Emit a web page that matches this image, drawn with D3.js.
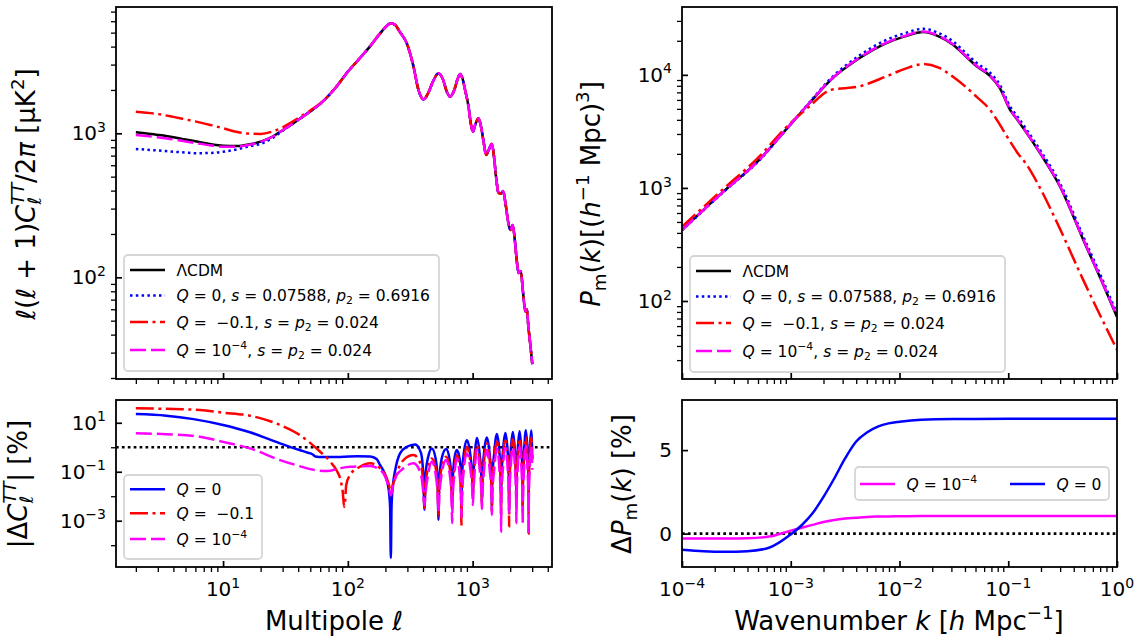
<!DOCTYPE html>
<html>
<head>
<meta charset="utf-8">
<script src="https://cdn.jsdelivr.net/npm/d3@7"></script>
<style>
  body { margin: 0; background: #fff; }
  svg { font-family: "DejaVu Sans", sans-serif; }
  text { white-space: pre; }
</style>
</head>
<body>
<svg id="fig" width="1142" height="642"></svg>
<script>
// ---- CMB TT spectrum, l(l+1)C_l/2pi in muK^2 ----
const ell = [2,3,4,5,6,8,10,13,16,20,25,30,40,50,60,80,100,120,150,180,200,221,240,260,297,336,368,404,440,480,532,580,620,661,710,760,795,830,870,927,970,1005,1050,1114,1170,1230,1283,1340,1425,1480,1540,1610,1680,1754,1830,1930,2012,2096,2180,2270,2337,2434,2530,2645,2718,2800,2900,3006];
const dlLCDM = [1016,975,940,905,880,840,820,815,835,875,950,1050,1240,1420,1600,2080,2680,3200,4000,4900,5450,5800,5650,5080,4200,2900,2000,1720,1900,2280,2610,2350,1950,1796,1980,2400,2580,2400,2000,1530,1150,1026,1150,1270,1100,850,707,760,843,700,500,387,380,398,330,240,213,231,180,125,107,110,80,58,60,45,34,25];
// low-l part where the models depart from LCDM (first entries of ell), the rest follows LCDM
const dlQ0Low = [778,760,745,735,728,730,745,775,810,845,930,1040];
const dlQm01Low = [1412,1360,1300,1250,1210,1140,1085,1020,995,990,1030,1100,1275,1440,1610];
const dlQ1e4Low = [973,938,908,878,857,824,808,808,830,872];

// ---- |Delta C_l^TT| in % ----
const diffQ0 = [[2,22.6],[3.5,19.5],[5.8,14.1],[10,8.1],[16.4,4.1],[28.6,1.44],[41,0.77],[48,0.6],[52,0.52],[55,0.42],[62,0.4],[87,0.4],[120,0.43],[151,0.42],[170,0.33],[181,0.19],[200,0.07],[212,0.02],[218,0.004],[221,0.00003],[224,0.004],[230,0.03],[240,0.12],[262,0.56],[297,1.05],[346,1.31],[385,0.6],[402,0.08],[411,0.0028],[420,0.08],[440,0.4],[471,0.9],[505,0.35],[525,0.04],[532,0.0011],[540,0.04],[565,0.35],[613,0.85],[655,0.3],[678,0.04],[685,0.003],[692,0.04],[715,0.35],[747,0.77],[790,0.3],[808,0.03],[813,0.004],[820,0.04],[845,0.45],[899,1.95],[960,0.45],[995,0.04],[1004,0.01],[1015,0.06],[1040,0.5],[1081,2.4],[1140,0.5],[1178,0.05],[1186,0.006],[1196,0.05],[1235,0.6],[1300,2.5],[1370,0.5],[1418,0.04],[1426,0.0025],[1436,0.04],[1490,0.6],[1564,3.5],[1640,0.6],[1683,0.04],[1690,0.005],[1698,0.04],[1750,0.7],[1830,3.8],[1910,0.6],[1953,0.04],[1960,0.003],[1968,0.04],[2020,0.7],[2100,4.2],[2185,0.6],[2233,0.05],[2240,0.008],[2248,0.05],[2300,0.8],[2380,4.5],[2460,0.7],[2513,0.05],[2520,0.004],[2528,0.05],[2590,0.8],[2670,5.0],[2750,0.8],[2803,0.06],[2810,0.01],[2818,0.06],[2870,0.8],[2950,4.8],[3006,0.35]];
const diffQm01 = [[2,39],[3.5,37],[6.5,33],[10,26],[16.4,19.5],[28.6,8.1],[41,3.2],[56,0.9],[72,0.26],[81.5,0.11],[88,0.04],[91,0.015],[93.4,0.0037],[95,0.006],[97,0.028],[104,0.074],[125,0.16],[151,0.22],[181,0.14],[205,0.054],[215,0.025],[221,0.011],[228,0.025],[240,0.06],[279,0.3],[336,0.48],[385,0.2],[402,0.03],[411,0.0033],[420,0.03],[440,0.15],[471,0.35],[505,0.15],[525,0.02],[532,0.0015],[540,0.02],[565,0.15],[613,0.41],[655,0.15],[678,0.02],[685,0.0045],[692,0.02],[715,0.15],[747,0.48],[790,0.1],[808,0.006],[813,0.0006],[820,0.006],[845,0.15],[899,1.05],[960,0.25],[995,0.04],[1004,0.011],[1015,0.04],[1040,0.3],[1081,1.23],[1140,0.25],[1178,0.03],[1186,0.0044],[1196,0.03],[1235,0.3],[1300,1.45],[1370,0.3],[1418,0.02],[1426,0.0023],[1436,0.02],[1490,0.35],[1564,1.7],[1640,0.3],[1683,0.02],[1690,0.0015],[1698,0.02],[1750,0.4],[1830,1.9],[1910,0.35],[1953,0.02],[1960,0.0006],[1968,0.02],[2020,0.4],[2100,2.1],[2185,0.35],[2233,0.03],[2240,0.003],[2248,0.03],[2300,0.45],[2380,2.3],[2460,0.4],[2513,0.03],[2520,0.002],[2528,0.03],[2590,0.45],[2670,2.6],[2750,0.45],[2803,0.03],[2810,0.0003],[2818,0.03],[2870,0.5],[2950,2.5],[3006,0.3]];
const diffQ1e4 = [[2,3.7],[3.5,3.4],[6.5,2.7],[10,1.66],[16.4,0.9],[28.6,0.3],[41,0.17],[53,0.12],[68,0.107],[87,0.14],[104,0.16],[151,0.17],[181,0.12],[200,0.06],[212,0.025],[221,0.011],[230,0.025],[245,0.07],[270,0.12],[336,0.22],[385,0.08],[402,0.015],[411,0.0044],[420,0.015],[440,0.08],[471,0.26],[505,0.08],[525,0.01],[532,0.0023],[540,0.01],[565,0.08],[613,0.3],[655,0.08],[678,0.008],[685,0.0008],[692,0.008],[715,0.08],[747,0.35],[790,0.06],[808,0.006],[813,0.0013],[820,0.006],[845,0.1],[899,0.56],[960,0.12],[995,0.015],[1004,0.0044],[1015,0.015],[1040,0.12],[1081,0.77],[1140,0.12],[1178,0.01],[1186,0.003],[1196,0.01],[1235,0.12],[1300,0.77],[1370,0.12],[1418,0.01],[1426,0.0017],[1436,0.01],[1490,0.13],[1564,0.9],[1640,0.12],[1683,0.006],[1690,0.00035],[1698,0.006],[1750,0.15],[1830,0.95],[1910,0.13],[1953,0.008],[1960,0.002],[1968,0.008],[2020,0.15],[2100,1.0],[2185,0.13],[2233,0.006],[2240,0.0008],[2248,0.006],[2300,0.15],[2380,1.05],[2460,0.14],[2513,0.006],[2520,0.0007],[2528,0.006],[2590,0.15],[2670,1.1],[2750,0.14],[2803,0.006],[2810,0.0003],[2818,0.006],[2870,0.15],[2950,1.1],[3006,0.12]];

// ---- matter power spectrum P_m(k) ----
const kPk = [1e-4,2.4e-4,5.13e-4,8.71e-4,1.48e-3,2.34e-3,4.27e-3,7.59e-3,1.12e-2,1.66e-2,2.29e-2,3.13e-2,4.07e-2,5.13e-2,6.79e-2,8.39e-2,0.104,0.120,0.148,0.196,0.299,0.490,0.708,1.0];
const pkLCDM = [425,927,1770,3150,5610,9030,14000,19100,21900,23900,21900,18400,14600,11900,9800,7600,4900,4060,3050,2030,1030,347,157,72];
const pkQ0 = [421,917,1752,3134,5677,9310,14800,20360,23380,25540,23400,19660,15600,12720,10470,8120,5240,4340,3260,2170,1100,371,168,77];
const pkQm01 = [455,980,1890,3300,5250,7360,7900,9700,11300,12450,11600,9560,7820,6380,4910,3610,2570,2080,1600,1000,434,153,73,37];
const pkQ1e4 = [424,924,1766,3148,5640,9100,14140,19300,22130,24150,22130,18590,14750,12020,9900,7680,4950,4100,3080,2050,1040,351,159,73];

// ---- Delta P_m(k) in % ----
const kDelta = [1e-4,1.58e-4,2.51e-4,3.98e-4,6.31e-4,1e-3,1.26e-3,1.58e-3,2e-3,2.51e-3,3.16e-3,3.98e-3,5.01e-3,6.31e-3,7.94e-3,1e-2,1.58e-2,3.16e-2,0.1,0.316,1];
const dPQ0 = [-0.96,-1.05,-1.08,-1.05,-0.85,-0.05,0.5,1.2,2.2,3.3,4.5,5.5,6.05,6.4,6.6,6.7,6.82,6.86,6.87,6.87,6.87];
const dPQ1e4 = [-0.3,-0.3,-0.3,-0.28,-0.18,0.18,0.35,0.52,0.7,0.82,0.9,0.95,1.0,1.02,1.03,1.04,1.05,1.06,1.06,1.06,1.06];

// ---- ticks ----
const ellTicks = [10,100,1000];
const ttTicks = [100,1000];
const diffTicks = [10,0.1,0.001];
const diffMinor = [1,0.01,0.0001];
const kTicks = [1e-4,1e-3,1e-2,1e-1,1];
const pkTicks = [100,1000,10000];
const dpTicks = [0,5];

const svg = d3.select("#fig");

const xEll = d3.scaleLog().domain([10 ** 0.142, 10 ** 3.636]).range([116, 552]);
const yTT = d3.scaleLog().domain([10 ** 1.294, 10 ** 3.877]).range([379, 7]);
const yDiff = d3.scaleLog().domain([10 ** -4.89, 10 ** 1.93]).range([567, 400]);
const xK = d3.scaleLog().domain([1e-4, 1]).range([682, 1117]);
const yPk = d3.scaleLog().domain([10 ** 1.31, 10 ** 4.6]).range([379, 7]);
const yDP = d3.scaleLinear().domain([-2, 8]).range([567, 400]);

const st = {
  lcdm: { color: "#000000", dash: null },
  q0: { color: "#0000ff", dash: "2.5,3.3" },
  qm: { color: "#ff0000", dash: "18,4.5,3,4.5" },
  q4: { color: "#ff00ff", dash: "16,5" },
  q0s: { color: "#0000ff", dash: null },
  q4s: { color: "#ff00ff", dash: null },
};

function rich(sel, parts, size) {
  const t = sel.append("text").attr("font-size", size);
  let cur = 0;
  parts.forEach(p => {
    if (typeof p === "string") p = { t: p };
    const off = p.sup ? -0.42 * size : p.sub ? 0.22 * size : 0;
    const s = t.append("tspan").text(p.t).attr("dy", off - cur);
    if (p.dx) s.attr("dx", p.dx);
    if (p.sup || p.sub) s.attr("font-size", size * 0.7);
    if (p.i) s.attr("font-style", "italic");
    cur = off;
  });
  return t;
}

function pow10(v) {
  const e = Math.round(Math.log10(v));
  return ["10", { t: e < 0 ? "\u2212" + (-e) : String(e), sup: 1 }];
}

function logMinors(scale) {
  const [a, b] = scale.domain().slice().sort((u, v) => u - v);
  const out = [];
  for (let e = Math.floor(Math.log10(a)); e <= Math.ceil(Math.log10(b)); e++)
    for (let m = 2; m <= 9; m++) {
      const v = m * 10 ** e;
      if (v >= a && v <= b) out.push(v);
    }
  return out;
}

function panel(id, x, y) {
  const [x0, x1] = x.range();
  const [y1, y0] = y.range();
  const g = svg.append("g");
  g.append("clipPath").attr("id", id).append("rect")
    .attr("x", x0).attr("y", y0).attr("width", x1 - x0).attr("height", y1 - y0);
  const plot = g.append("g").attr("clip-path", `url(#${id})`);
  return { g, plot, x0, x1, y0, y1 };
}

function curve(p, x, y, data, s) {
  const line = d3.line().x(d => x(d[0])).y(d => y(d[1])).curve(d3.curveMonotoneX);
  p.plot.append("path").datum(data)
    .attr("d", line).attr("fill", "none")
    .attr("stroke", s.color).attr("stroke-width", 2.5)
    .attr("stroke-dasharray", s.dash);
}

function hline(p, x, y, v) {
  p.plot.append("path").datum(x.domain().map(d => [d, v]))
    .attr("d", d3.line().x(d => x(d[0])).y(d => y(d[1])))
    .attr("stroke", "#000").attr("stroke-width", 2.7)
    .attr("stroke-dasharray", "2.7,3.2");
}

function axes(p, x, y, o) {
  const g = p.g;
  const fix = s => { s.select(".domain").remove(); };
  // x ticks
  if (o.xMinor) g.append("g").attr("transform", `translate(0,${p.y1})`)
    .call(d3.axisBottom(x).tickValues(o.xMinor).tickSize(5).tickFormat("")).call(fix)
    .selectAll("line").attr("stroke-width", 1.3);
  g.append("g").attr("transform", `translate(0,${p.y1})`)
    .call(d3.axisBottom(x).tickValues(o.xMajor).tickSize(-6).tickFormat("")).call(fix)
    .selectAll("line").attr("stroke-width", 1.7);
  // y ticks
  if (o.yMinor) g.append("g").attr("transform", `translate(${p.x0},0)`)
    .call(d3.axisLeft(y).tickValues(o.yMinor).tickSize(5).tickFormat("")).call(fix)
    .selectAll("line").attr("stroke-width", 1.3);
  g.append("g").attr("transform", `translate(${p.x0},0)`)
    .call(d3.axisLeft(y).tickValues(o.yMajor).tickSize(-6).tickFormat("")).call(fix)
    .selectAll("line").attr("stroke-width", 1.7);
  // frame
  g.append("rect").attr("x", p.x0).attr("y", p.y0)
    .attr("width", p.x1 - p.x0).attr("height", p.y1 - p.y0)
    .attr("fill", "none").attr("stroke", "#000").attr("stroke-width", 1.8);
  // labels
  if (o.xLabels) o.xMajor.forEach(v => {
    rich(g, o.xFmt(v), 20).attr("x", x(v)).attr("y", p.y1 + 29).attr("text-anchor", "middle");
  });
  o.yMajor.forEach(v => {
    rich(g, o.yFmt(v), 20).attr("x", p.x0 - 10).attr("y", y(v) + 7).attr("text-anchor", "end");
  });
}

function ylabel(parts, cx, cy) {
  rich(svg, parts, 26).attr("text-anchor", "middle")
    .attr("transform", `translate(${cx},${cy}) rotate(-90)`);
}

function legend(x, y, w, h, rows) {
  const g = svg.append("g");
  g.append("rect").attr("x", x).attr("y", y).attr("width", w).attr("height", h)
    .attr("rx", 4).attr("fill", "#fff").attr("fill-opacity", 0.8)
    .attr("stroke", "#d6d6d6").attr("stroke-width", 1.8);
  rows.forEach(r => {
    g.append("line").attr("x1", r.lx).attr("x2", r.lx + 35).attr("y1", r.y).attr("y2", r.y)
      .attr("stroke", r.s.color).attr("stroke-width", 2.5).attr("stroke-dasharray", r.s.dash);
    rich(g, r.label, 15.5).attr("x", r.lx + 46.5).attr("y", r.y + 5.5);
  });
}

const withTail = low => ell.map((l, i) => [l, i < low.length ? low[i] : dlLCDM[i]]);
const zip = (xs, ys) => xs.map((v, i) => [v, ys[i]]);

// ---- top left ----
const tl = panel("c-tl", xEll, yTT);
curve(tl, xEll, yTT, zip(ell, dlLCDM), st.lcdm);
curve(tl, xEll, yTT, withTail(dlQ0Low), st.q0);
curve(tl, xEll, yTT, withTail(dlQm01Low), st.qm);
curve(tl, xEll, yTT, withTail(dlQ1e4Low), st.q4);
axes(tl, xEll, yTT, { xMajor: ellTicks, xMinor: logMinors(xEll), yMajor: ttTicks, yMinor: logMinors(yTT), yFmt: pow10 });

// ---- bottom left ----
const bl = panel("c-bl", xEll, yDiff);
hline(bl, xEll, yDiff, 1);
curve(bl, xEll, yDiff, diffQ0, st.q0s);
curve(bl, xEll, yDiff, diffQm01, st.qm);
curve(bl, xEll, yDiff, diffQ1e4, st.q4);
axes(bl, xEll, yDiff, { xMajor: ellTicks, xMinor: logMinors(xEll), xLabels: true, xFmt: pow10, yMajor: diffTicks, yMinor: diffMinor, yFmt: pow10 });

// ---- top right ----
const tr = panel("c-tr", xK, yPk);
curve(tr, xK, yPk, zip(kPk, pkLCDM), st.lcdm);
curve(tr, xK, yPk, zip(kPk, pkQ0), st.q0);
curve(tr, xK, yPk, zip(kPk, pkQm01), st.qm);
curve(tr, xK, yPk, zip(kPk, pkQ1e4), st.q4);
axes(tr, xK, yPk, { xMajor: kTicks, xMinor: logMinors(xK), yMajor: pkTicks, yMinor: logMinors(yPk), yFmt: pow10 });

// ---- bottom right ----
const br = panel("c-br", xK, yDP);
hline(br, xK, yDP, 0);
curve(br, xK, yDP, zip(kDelta, dPQ1e4), st.q4s);
curve(br, xK, yDP, zip(kDelta, dPQ0), st.q0s);
axes(br, xK, yDP, { xMajor: kTicks, xMinor: logMinors(xK), xLabels: true, xFmt: pow10, yMajor: dpTicks, yFmt: v => [String(v)] });

// ---- axis labels ----
ylabel([{ t: "ℓ", i: 1 }, "(", { t: "ℓ", i: 1 }, " + 1)", { t: "C", i: 1 }, { t: "TT", i: 1, sup: 1 },
  { t: "ℓ", i: 1, sub: 1, dx: -22 }, { t: "/2", dx: 14 }, { t: "π", i: 1 }, " [μK", { t: "2", sup: 1 }, "]"], 35, 194);
ylabel(["|Δ", { t: "C", i: 1 }, { t: "TT", i: 1, sup: 1 }, { t: "ℓ", i: 1, sub: 1, dx: -22 },
  { t: "| [%]", dx: 14 }], 27, 484);
ylabel([{ t: "P", i: 1 }, { t: "m", sub: 1 }, "(", { t: "k", i: 1 }, ")[(", { t: "h", i: 1 },
  { t: "\u22121", sup: 1 }, " Mpc)", { t: "3", sup: 1 }, "]"], 600, 194);
ylabel(["Δ", { t: "P", i: 1 }, { t: "m", sub: 1 }, "(", { t: "k", i: 1 }, ") [%]"], 631, 484);

rich(svg, ["Multipole ", { t: "ℓ", i: 1 }], 26).attr("x", 334).attr("y", 630).attr("text-anchor", "middle");
rich(svg, ["Wavenumber ", { t: "k", i: 1 }, " [", { t: "h", i: 1 }, " Mpc", { t: "\u22121", sup: 1 }, "]"], 26)
  .attr("x", 899).attr("y", 630).attr("text-anchor", "middle");

// ---- legends ----
const lab = {
  lcdm: ["ΛCDM"],
  q0: [{ t: "Q", i: 1 }, " = 0, ", { t: "s", i: 1 }, " = 0.07588, ", { t: "p", i: 1 }, { t: "2", sub: 1 }, " = 0.6916"],
  qm: [{ t: "Q", i: 1 }, " =  \u22120.1, ", { t: "s", i: 1 }, " = ", { t: "p", i: 1 }, { t: "2", sub: 1 }, " = 0.024"],
  q4: [{ t: "Q", i: 1 }, " = 10", { t: "\u22124", sup: 1 }, ", ", { t: "s", i: 1 }, " = ", { t: "p", i: 1 }, { t: "2", sub: 1 }, " = 0.024"],
};
[[124, 255, 130], [690, 256, 696]].forEach(([lx, ly, sx]) => {
  legend(lx, ly, 315, 116, [
    { lx: sx, y: ly + 15, s: st.lcdm, label: lab.lcdm },
    { lx: sx, y: ly + 40.5, s: st.q0, label: lab.q0 },
    { lx: sx, y: ly + 67, s: st.qm, label: lab.qm },
    { lx: sx, y: ly + 95, s: st.q4, label: lab.q4 },
  ]);
});
legend(124, 475, 138, 84, [
  { lx: 130, y: 489.3, s: st.q0s, label: [{ t: "Q", i: 1 }, " = 0"] },
  { lx: 130, y: 513.3, s: st.qm, label: [{ t: "Q", i: 1 }, " =  \u22120.1"] },
  { lx: 130, y: 539, s: st.q4, label: [{ t: "Q", i: 1 }, " = 10", { t: "\u22124", sup: 1 }] },
]);
legend(855, 467, 254, 33, [
  { lx: 860, y: 484, s: st.q4s, label: [{ t: "Q", i: 1 }, " = 10", { t: "\u22124", sup: 1 }] },
  { lx: 1010, y: 484, s: st.q0s, label: [{ t: "Q", i: 1 }, " = 0"] },
]);
</script>
</body>
</html>
